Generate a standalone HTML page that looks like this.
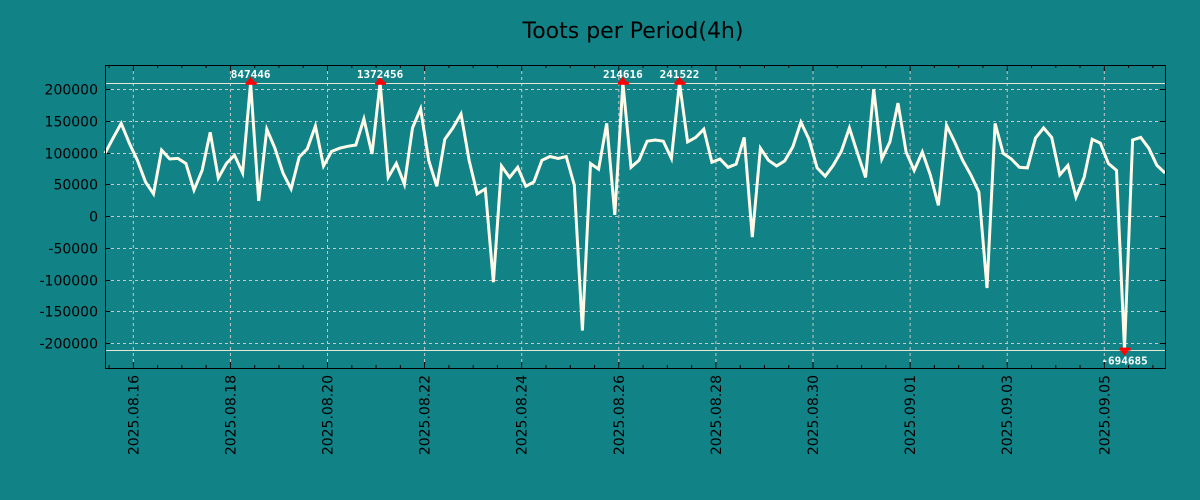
<!DOCTYPE html>
<html><head><meta charset="utf-8"><style>
html,body{margin:0;padding:0;background:#118286;}
svg{display:block;font-family:"DejaVu Sans","Liberation Sans",sans-serif;}
</style></head><body>
<svg id="chart" width="1200" height="500" xmlns="http://www.w3.org/2000/svg">
<rect x="0" y="0" width="1200" height="500" fill="#118286"/>
<text x="633" y="38" text-anchor="middle" font-size="22" fill="#000">Toots per Period(4h)</text>
<g id="grid"></g>
<g id="yaxis"></g>
<g id="xaxis"></g>
<g id="series"></g>
<rect x="105.5" y="65.5" width="1060" height="303" fill="none" stroke="#000" stroke-width="1"/>
</svg>
<script>
const values = [99,123,146,115,88,54,35,104,90,91,83,41,72,132,60,83,96,68,847.446,24,137,107,68,43,93,106,142,79,102,107,110,112,153,98,1372.456,61,83,50,139,169,88,47,121,139,161,88,35,43,-104,79,61,77,47,54,88,94,91,94,49,-180,83,74,146,2,214.616,77,88,118,120,118,91,241.522,117,124,137,85,90,77,82,124,-33,107,88,79,87,109,148,121,76,63,80,102,139,99,61,200,90,117,178,101,72,101,65,17,143,117,88,65,38,-113,146,99,90,77,76,123,139,124,65,80,30,61,121,115,83,72,-694.685,120,124,107,80,68].map(v=>v*1000);
const dateLabels = ["2025.08.16","2025.08.18","2025.08.20","2025.08.22","2025.08.24","2025.08.26","2025.08.28","2025.08.30","2025.09.01","2025.09.03","2025.09.05"];
const yTicks = [200000,150000,100000,50000,0,-50000,-100000,-150000,-200000];
const clipLimit = 210000;
const NS="http://www.w3.org/2000/svg";
const X0=105, X1=1165, Y0=65, Y1=368;
const yMin=-239000, yMax=238000;
const n=values.length;
function xs(i){return X0+(X1-X0)*i/(n-1);}
function ys(v){return Y1-(v-yMin)/(yMax-yMin)*(Y1-Y0);}
function mk(tag,attrs,parent){const e=document.createElementNS(NS,tag);for(const k in attrs)e.setAttribute(k,attrs[k]);parent.appendChild(e);return e;}
const grid=document.getElementById('grid'), ya=document.getElementById('yaxis'), xa=document.getElementById('xaxis'), ser=document.getElementById('series');
yTicks.forEach(t=>{
  const y=Math.round(ys(t))+0.5;
  const g=mk('line',{x1:X0,x2:X1,y1:y,y2:y,stroke:'#c8c8c8','stroke-dasharray':'3,3','stroke-width':1},grid);
  
  
  const tk=mk('line',{x1:X0,x2:X0+5,y1:y,y2:y,stroke:'#000'},ya);
  
  
  const tk2=mk('line',{x1:X1-5,x2:X1,y1:y,y2:y,stroke:'#000'},ya);
  
  
  const tx=mk('text',{x:98,y:y+5,'text-anchor':'end','font-size':14,fill:'#000'},ya);
  tx.textContent=String(t);
  
  
});
// day d (from 08.16) at index 3.5+6d
const ppi=(X1-X0)/(n-1);
for(let h=-1;h<=44;h++){
  const idx=3.5+3*h; const x=X0+idx*ppi; if(x<X0||x>X1) continue;
  const major = (h%4===0 && h>=0 && h/4<dateLabels.length);
  const len=major?6:3;
  const a=mk('line',{x1:x,x2:x,y1:Y1,y2:Y1-len,stroke:'#000'},xa);
  
  
  const b=mk('line',{x1:x,x2:x,y1:Y0,y2:Y0+len,stroke:'#000'},xa);
  
  
  if(major){
    const gl=mk('line',{x1:x,x2:x,y1:Y0,y2:Y1,stroke:'#c8c8c8','stroke-dasharray':'3,3'},grid);
    
    
    const tx=mk('text',{x:0,y:0,'text-anchor':'end','font-size':14,fill:'#000',transform:`translate(${x+5},375) rotate(-90)`},xa);
    tx.textContent=dateLabels[h/4];
    
    
  }
}
[clipLimit,-clipLimit].forEach(c=>{
  const y=Math.round(ys(c))+0.5;
  const l=mk('line',{x1:X0,x2:X1,y1:y,y2:y,stroke:'#e6e6d8','stroke-width':1},grid);
  
  
});
const pts=values.map((v,i)=>xs(i).toFixed(1)+','+ys(Math.max(-clipLimit,Math.min(clipLimit,v))).toFixed(1)).join(' ');
const pl=mk('polyline',{points:pts,fill:'none',stroke:'#fffbe8','stroke-width':3,'stroke-linejoin':'miter'},ser);


values.forEach((v,i)=>{
  if(Math.abs(v)<=clipLimit) return;
  const x=xs(i), up=v>0, y=ys(up?clipLimit:-clipLimit);
  const tri=mk('path',{d:up?`M${x-4},${y-1} L${x},${y-6} L${x+4},${y-1}Z`:`M${x-4},${y+1} L${x},${y+6} L${x+4},${y+1}Z`,fill:'#ff0000'},ser);
  
  
  const bar=mk('rect',{x:x-5,y:up?y-1:y-2,width:11,height:3,fill:'#ff0000'},ser);
  
  
  const t=mk('text',{x:x,y:up?y-5:y+15,'text-anchor':'middle','font-size':11,'font-weight':'bold','font-family':'"DejaVu Sans Mono","Liberation Mono",monospace',fill:'#fff'},ser);
  t.textContent=String(Math.round(v));
  
  
});
</script>
</body></html>
